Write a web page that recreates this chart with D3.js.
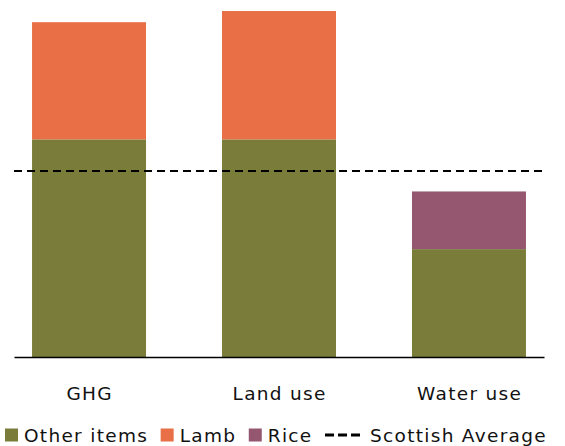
<!DOCTYPE html>
<html>
<head>
<meta charset="utf-8">
<script src="https://cdn.jsdelivr.net/npm/d3@7"></script>
<style>
  html, body { margin: 0; padding: 0; background: #fff; }
  svg { display: block; font-family: "DejaVu Sans", "Noto Sans", sans-serif; }
</style>
</head>
<body>
<svg id="chart" width="565" height="446"></svg>
<script>
// Footprint indices (Scottish average = 100)
const categories = ["GHG", "Land use", "Water use"];
const otherItems = [117, 117, 58];
const lamb = [63, 69, 0];
const rice = [0, 0, 31];
const scottishAverage = 100;

const seriesKeys = ["Other items", "Lamb", "Rice"];
const seriesColors = ["#797d39", "#e86f46", "#955770"];
const legendLabels = ["Other items", "Lamb", "Rice", "Scottish Average"];

const rows = categories.map((c, i) => ({
  category: c,
  "Other items": otherItems[i],
  "Lamb": lamb[i],
  "Rice": rice[i]
}));

const svg = d3.select("#chart");
const baseY = 357;
const fontFamily = "'DejaVu Sans', 'Noto Sans', sans-serif";
const fontSize = 18.5;
const tracking = 1.3;

const x = d3.scaleBand()
  .domain(categories)
  .range([14, 544])
  .paddingInner(0.4)
  .paddingOuter(0.095);

const y = d3.scaleLinear()
  .domain([0, 190])
  .range([baseY, baseY - 190 * 1.86]);

const color = d3.scaleOrdinal().domain(seriesKeys).range(seriesColors);

const stacked = d3.stack().keys(seriesKeys)(rows);

svg.append("g")
  .selectAll("g")
  .data(stacked)
  .join("g")
  .attr("fill", d => color(d.key))
  .selectAll("rect")
  .data(d => d)
  .join("rect")
  .attr("x", d => x(d.data.category))
  .attr("width", x.bandwidth())
  .attr("y", d => y(d[1]))
  .attr("height", d => y(d[0]) - y(d[1]));

// Category axis
const axis = svg.append("g")
  .attr("transform", `translate(0,${baseY})`)
  .call(d3.axisBottom(x).tickSize(0).tickPadding(30).tickSizeOuter(0));
axis.select(".domain").attr("stroke", "#000").attr("stroke-width", 1.3);
axis.selectAll("text")
  .attr("font-family", fontFamily)
  .attr("font-size", fontSize)
  .attr("letter-spacing", tracking)
  .attr("dx", tracking / 2)
  .attr("fill", "#111");

// Scottish average reference line
svg.append("line")
  .attr("x1", 14)
  .attr("x2", 544)
  .attr("y1", y(scottishAverage))
  .attr("y2", y(scottishAverage))
  .attr("stroke", "#000")
  .attr("stroke-width", 2.2)
  .attr("stroke-dasharray", "8,5");

// Legend
const legend = svg.append("g")
  .attr("font-family", fontFamily)
  .attr("font-size", fontSize)
  .attr("letter-spacing", tracking)
  .attr("fill", "#111");
let lx = 5;
const ly = 442;
legendLabels.forEach((label, i) => {
  if (i < seriesKeys.length) {
    legend.append("rect")
      .attr("x", lx).attr("y", ly - 13.5)
      .attr("width", 13).attr("height", 13)
      .attr("fill", seriesColors[i]);
    lx += 19;
  } else {
    legend.append("line")
      .attr("x1", lx).attr("x2", lx + 35)
      .attr("y1", ly - 7).attr("y2", ly - 7)
      .attr("stroke", "#000").attr("stroke-width", 2.8)
      .attr("stroke-dasharray", "9,4");
    lx += 45;
  }
  const t = legend.append("text").attr("x", lx).attr("y", ly).text(label);
  lx += t.node().getComputedTextLength() + 12.5;
});
</script>
</body>
</html>
